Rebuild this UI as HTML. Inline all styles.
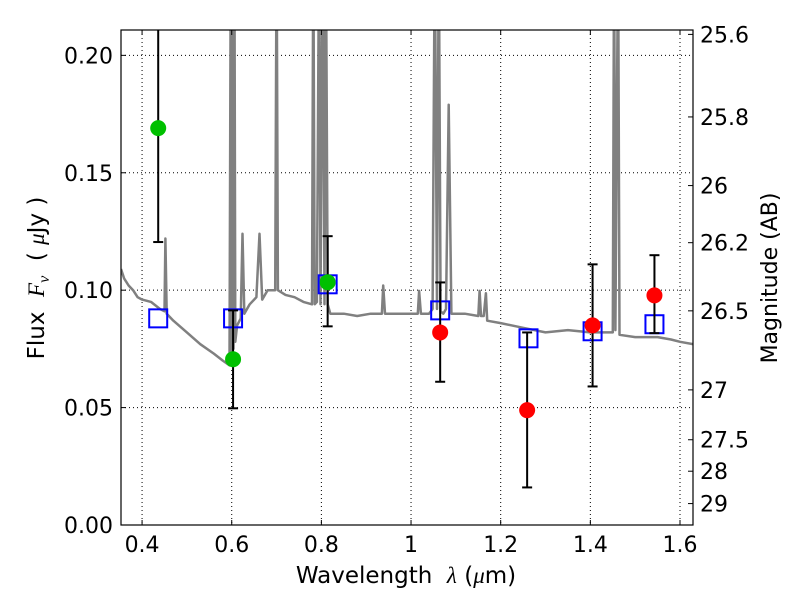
<!DOCTYPE html>
<html><head><meta charset="utf-8"><style>
html,body{margin:0;padding:0;background:#fff;}
svg{display:block;font-family:"DejaVu Sans","Liberation Sans",sans-serif;}
</style></head><body>
<svg id="chart" width="800" height="600" viewBox="0 0 800 600" xmlns="http://www.w3.org/2000/svg">
<rect x="0" y="0" width="800" height="600" fill="#fff"/>
<g id="grid"></g>
<g id="spec"></g>
<g id="marks"></g>
<g id="axes"></g>
<text x="406" y="583" font-size="23" text-anchor="middle" xml:space="preserve">Wavelength  <tspan font-family="Liberation Serif, serif" font-style="italic">λ</tspan> (<tspan font-family="Liberation Serif, serif" font-style="italic">μ</tspan>m)</text>
<text transform="translate(44,278) rotate(-90)" font-size="23" text-anchor="middle" xml:space="preserve">Flux  <tspan font-family="Liberation Serif, serif" font-style="italic">F<tspan font-size="16" dy="5">ν</tspan></tspan><tspan dy="-5">  ( </tspan><tspan font-family="Liberation Serif, serif" font-style="italic">μ</tspan>Jy )</text>
<text transform="translate(777,278) rotate(-90)" font-size="22" text-anchor="middle">Magnitude (AB)</text>
</svg>
<script>
const specLam = [0.353,0.36,0.37,0.38,0.39,0.40,0.42,0.44,0.45,0.452,0.455,0.47,0.50,0.53,0.56,0.58,0.595,0.598,0.600,0.602,0.604,0.606,0.608,0.612,0.62,0.624,0.628,0.64,0.655,0.662,0.668,0.68,0.697,0.700,0.703,0.72,0.74,0.76,0.779,0.782,0.785,0.79,0.795,0.798,0.803,0.807,0.81,0.814,0.82,0.85,0.88,0.91,0.935,0.938,0.942,0.97,1.0,1.015,1.018,1.022,1.04,1.048,1.053,1.058,1.062,1.066,1.072,1.078,1.084,1.09,1.12,1.15,1.153,1.156,1.162,1.167,1.17,1.20,1.25,1.30,1.35,1.40,1.45,1.453,1.456,1.462,1.465,1.50,1.55,1.58,1.60,1.629];
const specFlux = [0.109,0.105,0.102,0.100,0.097,0.096,0.095,0.092,0.091,0.122,0.090,0.087,0.082,0.077,0.073,0.070,0.068,0.250,0.070,0.250,0.075,0.250,0.078,0.085,0.088,0.124,0.090,0.094,0.097,0.124,0.096,0.100,0.100,0.250,0.100,0.098,0.097,0.095,0.094,0.250,0.094,0.095,0.250,0.094,0.250,0.094,0.250,0.094,0.090,0.090,0.089,0.090,0.090,0.102,0.090,0.090,0.090,0.090,0.0997,0.090,0.090,0.092,0.250,0.092,0.250,0.091,0.090,0.092,0.179,0.090,0.090,0.089,0.0997,0.089,0.089,0.0987,0.087,0.086,0.084,0.082,0.083,0.082,0.082,0.250,0.083,0.250,0.081,0.080,0.080,0.079,0.078,0.077];
const obsLam = [0.436,0.603,0.814,1.065,1.259,1.405,1.543];
const obsFlux = [0.169,0.0706,0.1034,0.082,0.0489,0.085,0.0978];
const obsLow = [0.1205,0.0497,0.0846,0.061,0.016,0.059,0.0817];
const obsHigh = [0.30,0.0914,0.123,0.1033,0.082,0.111,0.1149];
const obsColor = ["#00c000","#00c000","#00c000","#ff0000","#ff0000","#ff0000","#ff0000"];
const modelLam = [0.436,0.603,0.814,1.065,1.262,1.405,1.543];
const modelFlux = [0.088,0.088,0.1025,0.0914,0.0795,0.0825,0.0855];
const xTicks = [0.4,0.6,0.8,1.0,1.2,1.4,1.6];
const xTickLabels = ["0.4","0.6","0.8","1","1.2","1.4","1.6"];
const yTicks = [0.00,0.05,0.10,0.15,0.20];
const yTickLabels = ["0.00","0.05","0.10","0.15","0.20"];
const magTicks = [25.6,25.8,26,26.2,26.5,27,27.5,28,29];
const magTickLabels = ["25.6","25.8","26","26.2","26.5","27","27.5","28","29"];

const L=121,R=693,T=30,B=525;
const X0=0.353,X1=1.629,Y0=0.0,Y1=0.2108;
const sx=v=>L+(v-X0)/(X1-X0)*(R-L);
const sy=v=>B-(v-Y0)/(Y1-Y0)*(B-T);
const magToFlux=m=>Math.pow(10,(23.9-m)/2.5);
const NS="http://www.w3.org/2000/svg";
function mk(tag,attrs,parent){const e=document.createElementNS(NS,tag);for(const k in attrs)e.setAttribute(k,attrs[k]);parent.appendChild(e);return e;}
const grid=document.getElementById('grid'),spec=document.getElementById('spec'),marks=document.getElementById('marks'),axes=document.getElementById('axes');
const defs=mk('defs',{},document.getElementById('chart'));
const cp=mk('clipPath',{id:'clip'},defs);mk('rect',{x:L,y:T,width:R-L,height:B-T},cp);
spec.setAttribute('clip-path','url(#clip)');marks.setAttribute('clip-path','url(#clip)');

xTicks.forEach((t,i)=>{
  const x=sx(t);
  const g=mk('line',{x1:x,y1:T,x2:x,y2:B,stroke:'#000','stroke-width':1,'stroke-dasharray':'1,3'},grid);
  
  
  mk('line',{x1:x,y1:B,x2:x,y2:B-5,stroke:'#000'},axes);
  mk('line',{x1:x,y1:T,x2:x,y2:T+5,stroke:'#000'},axes);
  const tx=mk('text',{x:x,y:B+27,'font-size':22,'text-anchor':'middle'},axes);
  tx.textContent=xTickLabels[i];
  
  
});
yTicks.forEach((t,i)=>{
  const y=sy(t);
  const g=mk('line',{x1:L,y1:y,x2:R,y2:y,stroke:'#000','stroke-width':1,'stroke-dasharray':'1,3'},grid);
  
  
  mk('line',{x1:L,y1:y,x2:L+5,y2:y,stroke:'#000'},axes);
  const tx=mk('text',{x:L-8,y:y+8,'font-size':22,'text-anchor':'end'},axes);
  tx.textContent=yTickLabels[i];
  
  
});
magTicks.forEach((m,i)=>{
  const y=sy(magToFlux(m));
  mk('line',{x1:R,y1:y,x2:R-5,y2:y,stroke:'#000'},axes);
  const tx=mk('text',{x:R+7,y:y+8,'font-size':22},axes);
  tx.textContent=magTickLabels[i];
  
  
});

let d='';
specLam.forEach((l,i)=>{d+=(i?'L':'M')+sx(l).toFixed(1)+','+sy(specFlux[i]).toFixed(1);});
const sp=mk('path',{d:d,fill:'none',stroke:'#808080','stroke-width':2.5,'stroke-linejoin':'round'},spec);



modelLam.forEach((l,i)=>{
  const s=mk('rect',{x:sx(l)-9,y:sy(modelFlux[i])-9,width:18,height:18,fill:'none',stroke:'#0000ff','stroke-width':2},marks);
  
  
});
obsLam.forEach((l,i)=>{
  const x=sx(l);
  const eb=mk('line',{x1:x,y1:sy(obsLow[i]),x2:x,y2:sy(obsHigh[i]),stroke:'#000','stroke-width':2},marks);
  
  
  [obsLow[i],obsHigh[i]].forEach(v=>mk('line',{x1:x-5,y1:sy(v),x2:x+5,y2:sy(v),stroke:'#000','stroke-width':2},marks));
  const c=mk('circle',{cx:x,cy:sy(obsFlux[i]),r:8,fill:obsColor[i]},marks);
  
  
});
const fr=mk('rect',{x:L,y:T,width:R-L,height:B-T,fill:'none',stroke:'#000','stroke-width':1.2},axes);


</script>
</body></html>
